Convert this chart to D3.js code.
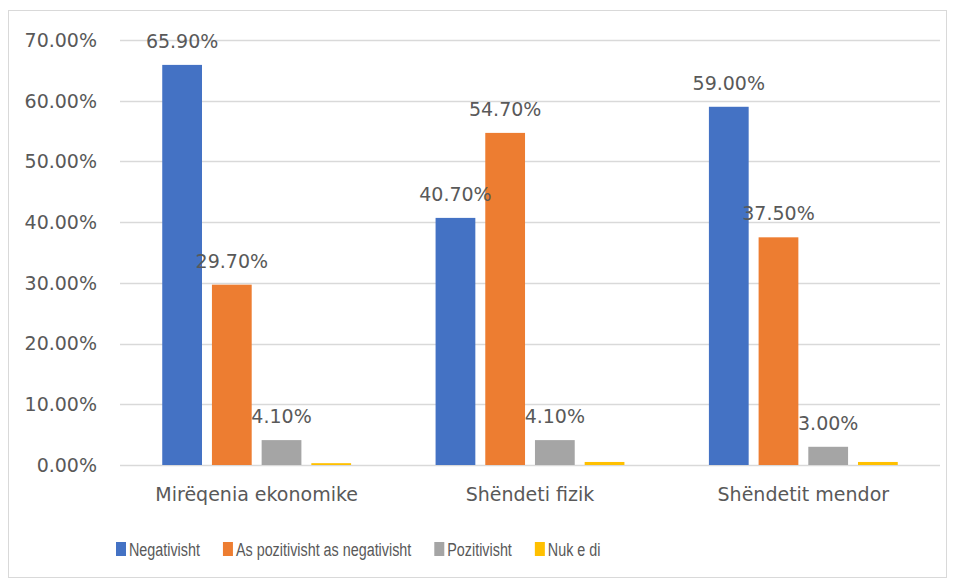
<!DOCTYPE html>
<html>
<head>
<meta charset="UTF-8">
<style>
  * { margin: 0; padding: 0; }
  body { background: #fff; }
  svg text { fill: #595959; }
</style>
</head>
<body>
<svg id="chart" width="957" height="580"></svg>
<script src="https://d3js.org/d3.v7.min.js"></script>
<script>
const categories = ["Mirëqenia ekonomike", "Shëndeti fizik", "Shëndetit mendor"];
const series = ["Negativisht", "As pozitivisht as negativisht", "Pozitivisht", "Nuk e di"];
const colors = ["#4472C4", "#ED7D31", "#A5A5A5", "#FFC000"];
// vlerat sipas kategorise (ne perqindje, 0-1)
const negativisht = [0.659, 0.407, 0.59];
const asAs = [0.297, 0.547, 0.375];
const pozitivisht = [0.041, 0.041, 0.03];
const nukEDi = [0.003, 0.005, 0.005];
// etiketat qe shfaqen mbi shtyllat (Nuk e di pa etikete)
const showLabel = [true, true, true, false];
const yTicks = [0, 0.1, 0.2, 0.3, 0.4, 0.5, 0.6, 0.7];

const values = [negativisht, asAs, pozitivisht, nukEDi];
const svg = d3.select('#chart');
const font = "'DejaVu Sans', sans-serif";

// korniza
svg.append('rect')
  .attr('x', 8.5).attr('y', 10.5)
  .attr('width', 938).attr('height', 567)
  .attr('fill', 'none')
  .attr('stroke', '#d9d9d9');

const x0 = d3.scaleBand().domain(categories).range([120, 940]);
const x1 = d3.scaleBand().domain(series).range([0, x0.bandwidth()])
  .paddingInner(0.2).paddingOuter(0.85);
const y = d3.scaleLinear().domain([0, 0.7]).range([465, 40]);

// rrjeta
svg.append('g')
  .selectAll('line')
  .data(yTicks)
  .join('line')
  .attr('x1', 120).attr('x2', 940)
  .attr('y1', d => Math.round(y(d)) + 0.5)
  .attr('y2', d => Math.round(y(d)) + 0.5)
  .attr('stroke', '#d9d9d9')
  .attr('stroke-width', 1.3);

// etiketat e boshtit y
svg.append('g')
  .selectAll('text')
  .data(yTicks)
  .join('text')
  .attr('x', 97)
  .attr('y', d => y(d))
  .attr('dy', '0.36em')
  .attr('text-anchor', 'end')
  .style('font', '19px ' + font)
  .text(d => (d * 100).toFixed(2) + '%');

// shtyllat
const bars = [];
categories.forEach((c, ci) => {
  series.forEach((s, si) => {
    bars.push({ cat: c, ser: s, si, v: values[si][ci] });
  });
});

svg.append('g')
  .selectAll('rect')
  .data(bars)
  .join('rect')
  .attr('x', d => x0(d.cat) + x1(d.ser))
  .attr('y', d => y(d.v))
  .attr('width', x1.bandwidth())
  .attr('height', d => y(0) - y(d.v))
  .attr('fill', d => colors[d.si]);

svg.append('g')
  .selectAll('text')
  .data(bars.filter(d => showLabel[d.si]))
  .join('text')
  .attr('x', d => x0(d.cat) + x1(d.ser) + x1.bandwidth() / 2)
  .attr('y', d => y(d.v) - 17)
  .attr('text-anchor', 'middle')
  .style('font', '19px ' + font)
  .text(d => (d.v * 100).toFixed(2) + '%');

// kategorite
svg.append('g')
  .selectAll('text')
  .data(categories)
  .join('text')
  .attr('x', d => x0(d) + x0.bandwidth() / 2)
  .attr('y', 494)
  .attr('dy', '0.36em')
  .attr('text-anchor', 'middle')
  .style('font', '19px ' + font)
  .text(d => d);

// legjenda (tekst i ngushtuar si ne origjinal)
const squeeze = 0.755;
const legend = svg.append('g').attr('transform', 'translate(116,549)');
let lx = 0;
series.forEach((s, i) => {
  const g = legend.append('g').attr('transform', `translate(${lx},0)`);
  g.append('rect')
    .attr('x', 0).attr('y', -7)
    .attr('width', 10).attr('height', 14)
    .attr('fill', colors[i]);
  const t = g.append('text')
    .attr('transform', `translate(13,0) scale(${squeeze},1)`)
    .attr('dy', '0.36em')
    .style('font', "19px 'Liberation Sans', Arial, sans-serif")
    .text(s);
  lx += 13 + t.node().getComputedTextLength() * squeeze + 23;
});
</script>
</body>
</html>
